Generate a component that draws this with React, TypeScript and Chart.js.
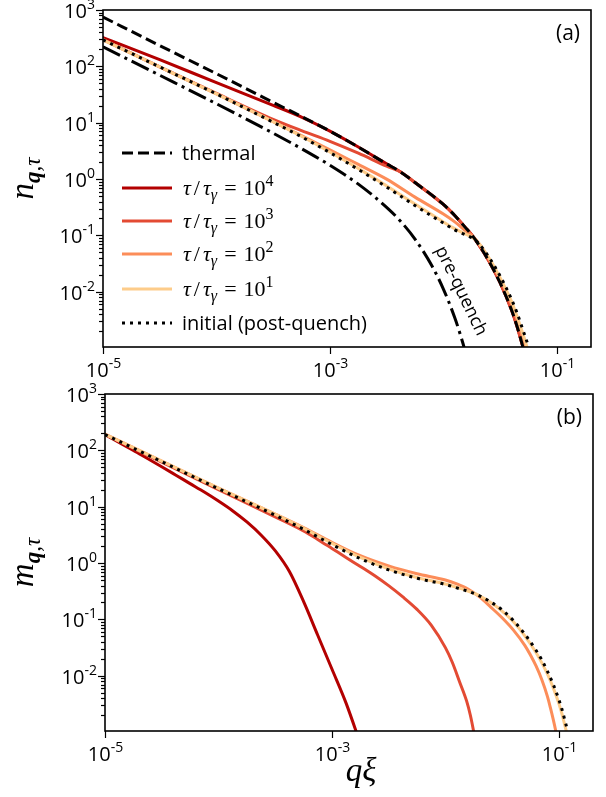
import React, { useEffect, useRef } from 'react';
import { Chart, registerables } from 'chart.js';
Chart.register(...registerables);

// ---------- Panel (a): n_{q,tau} ----------
const A_THERMAL_Q = [1e-5, 3.16e-5, 1e-4, 3.16e-4, 5.62e-4, 1e-3, 1.78e-3, 3.16e-3, 4.17e-3, 5.62e-3, 1e-2, 1.26e-2, 1.58e-2, 1.78e-2, 2e-2, 2.51e-2, 3.16e-2, 3.98e-2, 4.47e-2, 5.01e-2, 5.62e-2, 6.31e-2];
const A_THERMAL_N = [750, 234, 74, 23, 12.9, 7.1, 3.7, 1.86, 1.35, 0.87, 0.355, 0.226, 0.135, 0.102, 0.074, 0.0355, 0.0145, 0.0048, 0.0024, 0.00107, 0.00045, 0.00016];

const A_TAU4_Q = [1e-5, 3.16e-5, 1e-4, 3.16e-4, 5.62e-4, 1e-3, 1.78e-3, 3.16e-3, 4.17e-3, 5.62e-3, 1e-2, 1.26e-2, 1.58e-2, 1.78e-2, 2e-2, 2.51e-2, 3.16e-2, 3.98e-2, 4.47e-2, 5.01e-2, 5.62e-2, 6.31e-2];
const A_TAU4_N = [324, 132, 51.3, 20.4, 12.6, 7.1, 3.7, 1.86, 1.35, 0.87, 0.355, 0.226, 0.135, 0.102, 0.074, 0.0355, 0.0145, 0.0048, 0.0024, 0.00107, 0.00045, 0.00016];

const A_TAU3_Q = [1e-5, 3.16e-5, 1e-4, 3.16e-4, 5.62e-4, 1e-3, 1.78e-3, 3.16e-3, 4.17e-3, 5.62e-3, 1e-2, 1.26e-2, 1.58e-2, 1.78e-2, 2e-2, 2.51e-2, 3.16e-2, 3.98e-2, 4.47e-2, 5.01e-2, 5.62e-2, 6.31e-2];
const A_TAU3_N = [302, 97.7, 33.1, 11.5, 7.24, 4.68, 2.88, 1.70, 1.35, 0.87, 0.355, 0.226, 0.135, 0.102, 0.074, 0.0355, 0.0145, 0.0048, 0.0024, 0.00107, 0.00045, 0.00016];

const A_TAU2_Q = [1e-5, 3.16e-5, 1e-4, 3.16e-4, 5.62e-4, 1e-3, 1.78e-3, 3.16e-3, 5.62e-3, 1e-2, 1.26e-2, 1.58e-2, 1.78e-2, 2e-2, 2.51e-2, 3.16e-2, 3.98e-2, 4.47e-2, 5.01e-2, 5.62e-2];
const A_TAU2_N = [295, 97.7, 32.4, 10.5, 5.89, 3.31, 1.82, 1.0, 0.479, 0.240, 0.174, 0.120, 0.1, 0.0776, 0.0389, 0.0166, 0.00603, 0.00316, 0.00151, 0.00066];

const A_TAU1_Q = [1e-5, 3.16e-5, 1e-4, 3.16e-4, 5.62e-4, 1e-3, 1.78e-3, 3.16e-3, 5.62e-3, 1e-2, 1.26e-2, 1.58e-2, 1.78e-2, 2e-2, 2.51e-2, 3.16e-2, 3.98e-2, 4.47e-2, 5.01e-2, 5.62e-2, 6.31e-2];
const A_TAU1_N = [295, 97.7, 32.4, 10.5, 5.75, 3.02, 1.55, 0.759, 0.363, 0.174, 0.132, 0.105, 0.0933, 0.0776, 0.0407, 0.0178, 0.00676, 0.00363, 0.00182, 0.00085, 0.00032];

const A_INIT_Q = [1e-5, 3.16e-5, 1e-4, 3.16e-4, 5.62e-4, 1e-3, 1.78e-3, 3.16e-3, 5.62e-3, 1e-2, 1.26e-2, 1.58e-2, 1.78e-2, 2e-2, 2.51e-2, 3.16e-2, 3.98e-2, 4.47e-2, 5.01e-2, 5.62e-2, 6.31e-2];
const A_INIT_N = [295, 97.7, 32.4, 10.2, 5.62, 2.95, 1.48, 0.724, 0.339, 0.166, 0.126, 0.102, 0.0912, 0.0759, 0.0417, 0.0191, 0.00741, 0.00417, 0.00214, 0.00107, 0.00045];

const A_PRE_Q = [1e-5, 3.16e-5, 1e-4, 3.16e-4, 5.62e-4, 1e-3, 1.78e-3, 3.16e-3, 4.17e-3, 5.62e-3, 7.94e-3, 1e-2, 1.26e-2, 1.41e-2, 1.58e-2, 1.78e-2];
const A_PRE_N = [222, 69.7, 21.7, 6.53, 3.47, 1.76, 0.814, 0.316, 0.181, 0.0863, 0.0287, 0.0112, 0.00347, 0.00174, 0.00079, 0.0003];

// ---------- Panel (b): m_{q,tau} ----------
const B_TAU4_Q = [1e-5, 1.33e-5, 1.78e-5, 2.37e-5, 3.16e-5, 4.22e-5, 5.62e-5, 7.5e-5, 1e-4, 1.33e-4, 1.78e-4, 2.37e-4, 3.16e-4, 4.22e-4, 5.62e-4, 7.5e-4, 1e-3, 1.33e-3, 1.78e-3];
const B_TAU4_N = [190.5, 138, 100, 71.6, 51.3, 36.3, 25.7, 18.2, 12.6, 8.51, 5.37, 3.16, 1.66, 0.708, 0.209, 0.0525, 0.0132, 0.00331, 0.00063];

const B_TAU3_Q = [1e-5, 3.16e-5, 1e-4, 3.16e-4, 5.62e-4, 7.5e-4, 1e-3, 1.33e-3, 1.78e-3, 2.37e-3, 3.16e-3, 4.22e-3, 5.62e-3, 7.5e-3, 1e-2, 1.15e-2, 1.33e-2, 1.54e-2, 1.66e-2, 1.78e-2, 1.91e-2];
const B_TAU3_N = [191, 61.7, 20.0, 6.61, 3.72, 2.63, 1.82, 1.26, 0.871, 0.603, 0.398, 0.251, 0.151, 0.0794, 0.0316, 0.0174, 0.00794, 0.00355, 0.002, 0.001, 0.00045];

const B_TAU2_Q = [1e-5, 3.16e-5, 1e-4, 3.16e-4, 5.62e-4, 1e-3, 1.78e-3, 3.16e-3, 5.62e-3, 1e-2, 1.26e-2, 1.58e-2, 2e-2, 2.51e-2, 3.16e-2, 3.98e-2, 5.01e-2, 5.62e-2, 6.31e-2, 7.08e-2, 7.94e-2, 8.41e-2, 8.91e-2, 9.44e-2, 0.1];
const B_TAU2_N = [195, 64.6, 21.4, 7.41, 4.27, 2.34, 1.35, 0.891, 0.646, 0.501, 0.427, 0.347, 0.251, 0.166, 0.107, 0.0646, 0.0347, 0.0234, 0.0148, 0.00851, 0.00427, 0.00275, 0.0017, 0.001, 0.00054];

const B_TAU1_Q = [1e-5, 3.16e-5, 1e-4, 3.16e-4, 5.62e-4, 1e-3, 1.78e-3, 3.16e-3, 5.62e-3, 1e-2, 1.26e-2, 1.58e-2, 2e-2, 2.51e-2, 3.16e-2, 3.98e-2, 5.01e-2, 6.31e-2, 7.08e-2, 7.94e-2, 8.91e-2, 0.1, 0.106, 0.112, 0.119, 0.126];
const B_TAU1_N = [193, 64.6, 21.4, 7.41, 4.17, 2.24, 1.26, 0.794, 0.556, 0.427, 0.372, 0.32, 0.263, 0.2, 0.141, 0.0912, 0.0513, 0.0257, 0.017, 0.0107, 0.00617, 0.00324, 0.00219, 0.00141, 0.00085, 0.00047];

const B_INIT_Q = [1e-5, 3.16e-5, 1e-4, 3.16e-4, 5.62e-4, 1e-3, 1.78e-3, 3.16e-3, 5.62e-3, 1e-2, 1.26e-2, 1.58e-2, 2e-2, 2.51e-2, 3.16e-2, 3.98e-2, 5.01e-2, 6.31e-2, 7.08e-2, 7.94e-2, 8.91e-2, 0.1, 0.106, 0.112, 0.119, 0.126];
const B_INIT_N = [191, 63.1, 20.9, 7.08, 3.98, 2.14, 1.20, 0.759, 0.537, 0.417, 0.363, 0.316, 0.263, 0.204, 0.148, 0.0955, 0.055, 0.0282, 0.0191, 0.012, 0.00708, 0.0038, 0.00263, 0.00174, 0.00107, 0.0006];

// ---------- axes / labels ----------
const X_MIN = 1e-5;
const X_MAX = 0.2;
const Y_MIN = 1.05e-3;
const Y_MAX = 1e3;
const X_TICK_EXPONENTS = [-5, -3, -1];
const Y_TICK_EXPONENTS = [-2, -1, 0, 1, 2, 3];

const COLORS = { tau4: '#b30000', tau3: '#e34a33', tau2: '#fc8d59', tau1: '#fdcc8a', black: '#000000' };
const LEGEND_LABELS = ['thermal', '4', '3', '2', '1', 'initial (post-quench)'];

const SANS = '"Open Sans", "DejaVu Sans", sans-serif';
const SERIF = '"Liberation Serif", "DejaVu Serif", serif';

const pts = (q: number[], n: number[]) => q.map((x, i) => ({ x, y: n[i] }));

function lineDs(label: string, q: number[], n: number[], color: string, order: number, dash: number[] = []) {
  return {
    label,
    data: pts(q, n),
    borderColor: color,
    backgroundColor: color,
    borderWidth: 3,
    borderDash: dash,
    borderCapStyle: dash.length ? 'butt' : 'round',
    pointRadius: 0,
    cubicInterpolationMode: 'monotone',
    fill: false,
    clip: 0,
    order,
  };
}

type Seg = { t: string; f: string; dy?: number; gap?: number };

function drawSegs(ctx: CanvasRenderingContext2D, segs: Seg[], x: number, y: number, align: 'left' | 'center' | 'right') {
  let total = 0;
  const widths = segs.map((s) => {
    ctx.font = s.f;
    const w = ctx.measureText(s.t).width + (s.gap || 0) * 2;
    total += w;
    return w;
  });
  let cx = align === 'left' ? x : align === 'center' ? x - total / 2 : x - total;
  ctx.textAlign = 'left';
  ctx.textBaseline = 'alphabetic';
  segs.forEach((s, i) => {
    ctx.font = s.f;
    ctx.fillText(s.t, cx + (s.gap || 0), y + (s.dy || 0));
    cx += widths[i];
  });
}

function powSegs(exp: number): Seg[] {
  return [
    { t: '10', f: `20px ${SANS}` },
    { t: String(exp), f: `14px ${SANS}`, dy: -9 },
  ];
}

function tauSegs(exp: string): Seg[] {
  return [
    { t: 'τ', f: `italic 22px ${SERIF}` },
    { t: '/', f: `22px ${SERIF}`, gap: 3 },
    { t: 'τ', f: `italic 22px ${SERIF}` },
    { t: 'γ', f: `italic 16px ${SERIF}`, dy: 5 },
    { t: '=', f: `22px ${SERIF}`, gap: 7 },
    { t: '10', f: `22px ${SERIF}` },
    { t: exp, f: `16px ${SERIF}`, dy: -9 },
  ];
}

function makeAxesPlugin(opts: { panel: string; yLetter: string; legend: boolean; xTitle: boolean }) {
  return {
    id: 'customAxes' + opts.panel,
    afterDraw(chart: any) {
      const ctx: CanvasRenderingContext2D = chart.ctx;
      const { left, right, top, bottom } = chart.chartArea;
      const xs = chart.scales.x;
      const ys = chart.scales.y;
      ctx.save();
      ctx.fillStyle = '#000';
      ctx.strokeStyle = '#000';
      // y ticks (major + minor)
      ctx.lineWidth = 1.2;
      for (let e = -3; e <= 2; e++) {
        for (let m = 1; m <= 9; m++) {
          const v = m * Math.pow(10, e);
          if (v < Y_MIN * 0.999 || v > Y_MAX * 1.001) continue;
          const py = Math.round(ys.getPixelForValue(v)) + 0.5;
          const len = m === 1 ? 7 : 4;
          ctx.beginPath();
          ctx.moveTo(left - len, py);
          ctx.lineTo(left, py);
          ctx.stroke();
        }
      }
      {
        const py = Math.round(ys.getPixelForValue(1e3)) + 0.5;
        ctx.beginPath();
        ctx.moveTo(left - 7, py);
        ctx.lineTo(left, py);
        ctx.stroke();
      }
      Y_TICK_EXPONENTS.forEach((e) => {
        const py = ys.getPixelForValue(Math.pow(10, e));
        drawSegs(ctx, powSegs(e), left - 8, py + 8, 'right');
      });
      // x ticks
      X_TICK_EXPONENTS.forEach((e) => {
        const px = Math.round(xs.getPixelForValue(Math.pow(10, e))) + 0.5;
        ctx.beginPath();
        ctx.moveTo(px, bottom);
        ctx.lineTo(px, bottom + 7);
        ctx.stroke();
        drawSegs(ctx, powSegs(e), px, bottom + 30, 'center');
      });
      // frame
      ctx.lineWidth = 1.6;
      ctx.strokeRect(left, top, right - left, bottom - top);
      // panel label
      ctx.font = `21px ${SANS}`;
      ctx.textAlign = 'right';
      ctx.textBaseline = 'alphabetic';
      ctx.fillText(`(${opts.panel})`, right - 11, top + 30);
      // y title (rotated)
      ctx.save();
      ctx.translate(33, (top + bottom) / 2);
      ctx.rotate(-Math.PI / 2);
      drawSegs(ctx, [
        { t: opts.yLetter, f: `italic 33px ${SERIF}` },
        { t: 'q', f: `italic bold 23px ${SERIF}`, dy: 7 },
        { t: ',', f: `italic 23px ${SERIF}`, dy: 7 },
        { t: 'τ', f: `italic 23px ${SERIF}`, dy: 7 },
      ], 0, 0, 'center');
      ctx.restore();
      if (opts.xTitle) {
        drawSegs(ctx, [{ t: 'qξ', f: `italic 33px ${SERIF}` }], (left + right) / 2 + 12, bottom + 50, 'center');
      }
      if (opts.legend) {
        const rows = [153, 188, 221, 254, 289, 323];
        const styles = [
          { c: COLORS.black, d: [11, 5] },
          { c: COLORS.tau4, d: [] },
          { c: COLORS.tau3, d: [] },
          { c: COLORS.tau2, d: [] },
          { c: COLORS.tau1, d: [] },
          { c: COLORS.black, d: [3, 5] },
        ];
        rows.forEach((ry, i) => {
          ctx.save();
          ctx.strokeStyle = styles[i].c;
          ctx.lineWidth = 3;
          ctx.lineCap = 'butt';
          ctx.setLineDash(styles[i].d);
          ctx.beginPath();
          ctx.moveTo(122, ry);
          ctx.lineTo(172, ry);
          ctx.stroke();
          ctx.restore();
          const lab = LEGEND_LABELS[i];
          if (i === 0 || i === 5) {
            drawSegs(ctx, [{ t: lab, f: `20px ${SANS}` }], 182, ry + 7, 'left');
          } else {
            drawSegs(ctx, tauSegs(lab), 183, ry + 7, 'left');
          }
        });
        // pre-quench annotation
        ctx.save();
        ctx.translate(461, 291);
        ctx.rotate((64 * Math.PI) / 180);
        ctx.font = `18px ${SANS}`;
        ctx.textAlign = 'center';
        ctx.textBaseline = 'middle';
        ctx.fillText('pre-quench', 0, 0);
        ctx.restore();
      }
      ctx.restore();
    },
  };
}

function baseOptions(padding: any) {
  return {
    responsive: false,
    animation: false,
    devicePixelRatio: 1,
    events: [],
    layout: { padding },
    plugins: { legend: { display: false }, tooltip: { enabled: false } },
    scales: {
      x: { type: 'logarithmic', min: X_MIN, max: X_MAX, display: false },
      y: { type: 'logarithmic', min: Y_MIN, max: Y_MAX, display: false },
    },
  };
}

export default function App() {
  const topRef = useRef<HTMLCanvasElement>(null);
  const botRef = useRef<HTMLCanvasElement>(null);

  useEffect(() => {
    const top = new Chart(topRef.current as HTMLCanvasElement, {
      type: 'line',
      data: {
        datasets: [
          lineDs('τ/τγ=10^4', A_TAU4_Q, A_TAU4_N, COLORS.tau4, 7),
          lineDs('τ/τγ=10^3', A_TAU3_Q, A_TAU3_N, COLORS.tau3, 6),
          lineDs('τ/τγ=10^2', A_TAU2_Q, A_TAU2_N, COLORS.tau2, 5),
          lineDs('τ/τγ=10^1', A_TAU1_Q, A_TAU1_N, COLORS.tau1, 4),
          lineDs('thermal', A_THERMAL_Q, A_THERMAL_N, COLORS.black, 3, [11, 5]),
          lineDs('pre-quench', A_PRE_Q, A_PRE_N, COLORS.black, 2, [19, 5, 3, 5]),
          lineDs('initial (post-quench)', A_INIT_Q, A_INIT_N, COLORS.black, 1, [3, 5]),
        ] as any,
      },
      options: baseOptions({ left: 103, right: 15, top: 10, bottom: 43 }) as any,
      plugins: [makeAxesPlugin({ panel: 'a', yLetter: 'n', legend: true, xTitle: false })],
    });
    const bot = new Chart(botRef.current as HTMLCanvasElement, {
      type: 'line',
      data: {
        datasets: [
          lineDs('τ/τγ=10^4', B_TAU4_Q, B_TAU4_N, COLORS.tau4, 7),
          lineDs('τ/τγ=10^3', B_TAU3_Q, B_TAU3_N, COLORS.tau3, 6),
          lineDs('τ/τγ=10^2', B_TAU2_Q, B_TAU2_N, COLORS.tau2, 5),
          lineDs('τ/τγ=10^1', B_TAU1_Q, B_TAU1_N, COLORS.tau1, 4),
          lineDs('initial (post-quench)', B_INIT_Q, B_INIT_N, COLORS.black, 1, [3, 5]),
        ] as any,
      },
      options: baseOptions({ left: 105, right: 13, top: 19, bottom: 66 }) as any,
      plugins: [makeAxesPlugin({ panel: 'b', yLetter: 'm', legend: false, xTitle: true })],
    });
    return () => {
      top.destroy();
      bot.destroy();
    };
  }, []);

  return (
    <div style={{ position: 'absolute', left: 0, top: 0, width: 606, height: 797, background: '#ffffff' }}>
      <canvas ref={topRef} width={606} height={390} style={{ position: 'absolute', left: 0, top: 0 }} />
      <canvas ref={botRef} width={606} height={422} style={{ position: 'absolute', left: 0, top: 375 }} />
    </div>
  );
}
